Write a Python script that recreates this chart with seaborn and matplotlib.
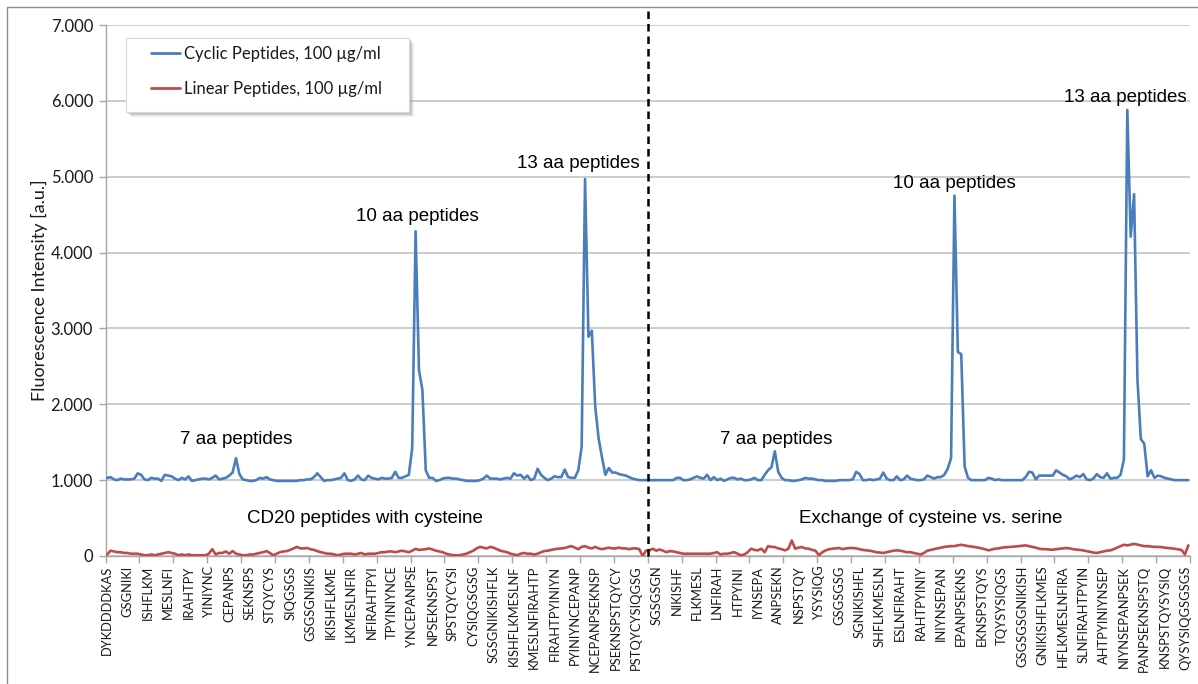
import numpy as np
import pandas as pd
import matplotlib
matplotlib.use("Agg")
import matplotlib.pyplot as plt
from matplotlib.ticker import FuncFormatter, FixedLocator
from matplotlib.lines import Line2D
from matplotlib.patches import Rectangle
import seaborn as sns

# ---------------- data (fluorescence in thousands of a.u.) ----------------
cyclic_cys = [
    1.03, 1.04, 1.01, 1.00, 1.02, 1.01, 1.01, 1.01, 1.02, 1.09,
    1.07, 1.01, 1.00, 1.03, 1.02, 1.02, 0.99, 1.07, 1.06, 1.05,
    1.02, 1.00, 1.03, 1.01, 1.05, 0.99, 1.00, 1.01, 1.02, 1.02,
    1.01, 1.03, 1.06, 1.01, 1.02, 1.03, 1.06, 1.10, 1.29, 1.08,
    1.01, 1.00, 0.99, 0.99, 1.00, 1.03, 1.02, 1.04, 1.01, 1.00,
    0.99, 0.99, 0.99, 0.99, 0.99, 0.99, 0.99, 1.00, 1.00, 1.01,
    1.01, 1.04, 1.09, 1.04, 0.99, 1.00, 1.00, 1.01, 1.02, 1.03,
    1.09, 1.00, 0.99, 1.01, 1.06, 1.01, 1.00, 1.06, 1.03, 1.02,
    1.01, 1.03, 1.02, 1.02, 1.03, 1.11, 1.03, 1.03, 1.05, 1.07,
    1.42, 4.28, 2.45, 2.19, 1.13, 1.03, 1.03, 0.99, 1.00, 1.02,
    1.03, 1.03, 1.02, 1.02, 1.01, 1.00, 0.99, 0.99, 0.99, 0.99,
    1.00, 1.02, 1.06, 1.02, 1.02, 1.02, 1.01, 1.02, 1.03, 1.02,
    1.09, 1.06, 1.07, 1.02, 1.06, 1.00, 1.02, 1.15, 1.07, 1.03,
    1.00, 1.02, 1.05, 1.04, 1.04, 1.14, 1.04, 1.03, 1.03, 1.13,
    1.44, 4.97, 2.89, 2.97, 1.97, 1.55, 1.30, 1.07, 1.16, 1.10,
    1.10, 1.08, 1.07, 1.06, 1.04, 1.02, 1.01, 1.00, 1.00, 1.00,
]
cyclic_ser = [
    1.00, 1.00, 1.00, 1.00, 1.00, 1.00, 1.00, 1.00, 1.03, 1.03,
    1.00, 1.00, 1.01, 1.03, 1.05, 1.03, 1.02, 1.07, 1.00, 1.04,
    1.00, 1.02, 0.99, 1.01, 1.03, 1.03, 1.01, 1.02, 1.00, 1.00,
    1.01, 1.03, 1.00, 1.00, 1.07, 1.13, 1.17, 1.38, 1.11, 1.03,
    1.00, 1.00, 0.99, 0.99, 1.00, 1.01, 1.03, 1.02, 1.02, 1.01,
    1.00, 1.00, 0.99, 0.99, 0.99, 0.99, 1.00, 1.00, 1.00, 1.00,
    1.01, 1.11, 1.08, 1.00, 1.00, 1.01, 1.00, 1.01, 1.02, 1.10,
    1.02, 1.00, 1.00, 1.05, 1.00, 1.01, 1.06, 1.02, 1.01, 1.00,
    1.00, 1.01, 1.06, 1.04, 1.02, 1.04, 1.04, 1.07, 1.15, 1.29,
    4.75, 2.69, 2.66, 1.18, 1.03, 1.00, 1.00, 1.00, 1.00, 1.00,
    1.03, 1.02, 1.00, 1.01, 1.00, 1.00, 1.00, 1.00, 1.00, 1.00,
    1.00, 1.04, 1.11, 1.10, 1.01, 1.06, 1.06, 1.06, 1.06, 1.06,
    1.13, 1.10, 1.07, 1.05, 1.01, 1.03, 1.06, 1.04, 1.08, 1.01,
    1.00, 1.02, 1.08, 1.04, 1.03, 1.09, 1.02, 1.03, 1.03, 1.07,
    1.27, 5.88, 4.21, 4.77, 2.32, 1.54, 1.48, 1.05, 1.13, 1.03,
    1.06, 1.05, 1.03, 1.02, 1.01, 1.00, 1.00, 1.00, 1.00, 1.00,
]
linear_cys = [
    0.02, 0.07, 0.06, 0.05, 0.05, 0.04, 0.04, 0.03, 0.03, 0.03,
    0.02, 0.01, 0.01, 0.02, 0.01, 0.02, 0.03, 0.04, 0.05, 0.04,
    0.03, 0.01, 0.02, 0.01, 0.02, 0.01, 0.01, 0.01, 0.01, 0.01,
    0.03, 0.09, 0.02, 0.04, 0.04, 0.06, 0.03, 0.065, 0.03, 0.02,
    0.01, 0.01, 0.02, 0.02, 0.03, 0.04, 0.05, 0.065, 0.04, 0.01,
    0.03, 0.05, 0.06, 0.065, 0.08, 0.10, 0.12, 0.10, 0.10, 0.105,
    0.09, 0.08, 0.065, 0.05, 0.04, 0.03, 0.03, 0.02, 0.01, 0.02,
    0.03, 0.03, 0.03, 0.02, 0.03, 0.04, 0.02, 0.03, 0.03, 0.03,
    0.04, 0.05, 0.05, 0.06, 0.06, 0.05, 0.06, 0.07, 0.06, 0.05,
    0.07, 0.095, 0.08, 0.085, 0.09, 0.10, 0.085, 0.07, 0.06, 0.05,
    0.03, 0.02, 0.01, 0.01, 0.01, 0.02, 0.03, 0.05, 0.07, 0.10,
    0.12, 0.11, 0.10, 0.12, 0.11, 0.09, 0.07, 0.06, 0.05, 0.03,
    0.02, 0.01, 0.03, 0.04, 0.03, 0.03, 0.02, 0.03, 0.05, 0.065,
    0.07, 0.08, 0.09, 0.095, 0.10, 0.105, 0.12, 0.13, 0.11, 0.09,
    0.12, 0.13, 0.11, 0.10, 0.12, 0.10, 0.09, 0.10, 0.11, 0.10,
    0.10, 0.11, 0.10, 0.10, 0.09, 0.10, 0.10, 0.09, 0.00, 0.07,
]
linear_ser = [
    0.074, 0.096, 0.07, 0.087, 0.07, 0.05, 0.065, 0.06, 0.05, 0.04,
    0.03, 0.03, 0.03, 0.03, 0.03, 0.03, 0.03, 0.03, 0.03, 0.04,
    0.05, 0.02, 0.03, 0.03, 0.04, 0.05, 0.03, 0.01, 0.02, 0.05,
    0.096, 0.08, 0.074, 0.096, 0.05, 0.13, 0.12, 0.118, 0.10, 0.09,
    0.074, 0.096, 0.205, 0.096, 0.11, 0.118, 0.10, 0.096, 0.08, 0.07,
    0.01, 0.05, 0.074, 0.09, 0.096, 0.10, 0.105, 0.09, 0.10, 0.105,
    0.105, 0.10, 0.09, 0.08, 0.074, 0.07, 0.06, 0.05, 0.045, 0.04,
    0.05, 0.06, 0.07, 0.074, 0.07, 0.06, 0.05, 0.05, 0.04, 0.03,
    0.02, 0.04, 0.07, 0.08, 0.09, 0.10, 0.11, 0.12, 0.125, 0.13,
    0.13, 0.14, 0.148, 0.14, 0.13, 0.125, 0.118, 0.11, 0.10, 0.09,
    0.074, 0.085, 0.096, 0.10, 0.11, 0.115, 0.118, 0.12, 0.125, 0.13,
    0.135, 0.14, 0.13, 0.12, 0.11, 0.096, 0.09, 0.09, 0.085, 0.083,
    0.09, 0.095, 0.10, 0.105, 0.10, 0.09, 0.085, 0.08, 0.074, 0.065,
    0.055, 0.045, 0.04, 0.05, 0.06, 0.07, 0.074, 0.09, 0.11, 0.13,
    0.148, 0.14, 0.15, 0.16, 0.15, 0.14, 0.13, 0.13, 0.125, 0.12,
    0.12, 0.118, 0.11, 0.105, 0.10, 0.096, 0.087, 0.08, 0.02, 0.14,
]

tick_labels = [
    "DYKDDDDKAS", "GSGNIKI", "ISHFLKM", "MESLNFI", "IRAHTPY", "YINIYNC",
    "CEPANPS", "SEKNSPS", "STQYCYS", "SIQGSGS", "GSGSGNIKIS", "IKISHFLKME",
    "LKMESLNFIR", "NFIRAHTPYI", "TPYINIYNCE", "YNCEPANPSE", "NPSEKNSPST",
    "SPSTQYCYSI", "CYSIQGSGSG", "SGSGNIKISHFLK", "KISHFLKMESLNF",
    "KMESLNFIRAHTP", "FIRAHTPYINIYN", "PYINIYNCEPANP", "NCEPANPSEKNSP",
    "PSEKNSPSTQYCY", "PSTQYCYSIQGSG",
    "SGSGSGN", "NIKISHF", "FLKMESL", "LNFIRAH", "HTPYINI", "IYNSEPA",
    "ANPSEKN", "NSPSTQY", "YSYSIQG", "GSGSGSG", "SGNIKISHFL", "SHFLKMESLN",
    "ESLNFIRAHT", "RAHTPYINIY", "INIYNSEPAN", "EPANPSEKNS", "EKNSPSTQYS",
    "TQYSYSIQGS", "GSGSGSGNIKISH", "GNIKISHFLKMES", "HFLKMESLNFIRA",
    "SLNFIRAHTPYIN", "AHTPYINIYNSEP", "NIYNSEPANPSEK", "PANPSEKNSPSTQ",
    "KNSPSTQYSYSIQ", "QYSYSIQGSGSGS",
]
series_names = ["Cyclic Peptides, 100 µg/ml", "Linear Peptides, 100 µg/ml"]
annotations = [
    ("7 aa peptides", 38, 1540), ("10 aa peptides", 91.5, 4480),
    ("13 aa peptides", 139, 5180), ("CD20 peptides with cysteine", 76, 500),
    ("7 aa peptides", 197.5, 1540), ("10 aa peptides", 250, 4915),
    ("13 aa peptides", 300.5, 6050), ("Exchange of cysteine vs. serine", 243, 500),
]

# ---------------- build frame ----------------
cyc = np.array(cyclic_cys + cyclic_ser) * 1000
lin = np.array(linear_cys + linear_ser) * 1000
n = len(cyc)
idx = np.arange(n)
df = pd.DataFrame({
    "idx": np.concatenate([idx, idx]),
    "value": np.concatenate([cyc, lin]),
    "series": [series_names[0]] * n + [series_names[1]] * n,
})

sns.set_theme(style="white")
plt.rcParams["font.family"] = ["Lato", "DejaVu Sans"]

W, H = 1198, 684
fig = plt.figure(figsize=(W / 100, H / 100), dpi=100)
ax = fig.add_axes([105.5 / W, 1 - 556 / H, (1190 - 105.5) / W, 531 / H])

palette = {series_names[0]: "#4a7ebb", series_names[1]: "#be4b48"}
sns.lineplot(data=df, x="idx", y="value", hue="series", palette=palette,
             linewidth=1.9, ax=ax, legend=False, zorder=3)

ax.set_xlim(-0.5, n - 0.5)
ax.set_ylim(0, 7000)
ax.yaxis.set_major_locator(FixedLocator(np.arange(0, 7001, 1000)))
ax.yaxis.set_major_formatter(FuncFormatter(lambda v, p: f"{int(v):,}".replace(",", ".")))
ax.grid(axis="y", color="#bfbfbf", linewidth=1.1, zorder=0)
ax.grid(axis="x", visible=False)

label_pos = np.arange(0, 6 * len(tick_labels), 6)
ax.set_xticks(label_pos)
ax.set_xticklabels(tick_labels, rotation=90, fontsize=9.3, color="#1a1a1a")
ax.set_xticks(np.arange(-0.5, n, 10), minor=True)
ax.tick_params(axis="x", which="major", length=0, pad=7)
ax.tick_params(axis="x", which="minor", length=5, width=1, color="#a6a6a6", direction="out", bottom=True)
ax.tick_params(axis="y", length=5, width=1, color="#a6a6a6", direction="out", left=True,
               labelsize=12, labelcolor="#1a1a1a", pad=4)

for s in ["top", "right"]:
    ax.spines[s].set_visible(False)
for s in ["left", "bottom"]:
    ax.spines[s].set_color("#a6a6a6")
    ax.spines[s].set_linewidth(1)

ax.set_xlabel("")
ax.set_ylabel("Fluorescence Intensity [a.u.]", fontsize=13, color="#1a1a1a", labelpad=2)

# divider
ax.axvline(n / 2 - 0.5, ymin=0, ymax=(556 - 8) / 531, clip_on=False, color="black",
           linestyle=(0, (3, 2)), linewidth=1.8, zorder=4)

for txt, x, y in annotations:
    ax.text(x, y, txt, ha="center", va="center", fontsize=13.5,
            family=["Liberation Sans", "DejaVu Sans"], color="black", zorder=5)

# legend box with soft shadow (pixel layout of the reference)
def fig_rect(x0, y0, x1, y1, **kw):
    return Rectangle((x0 / W, 1 - y1 / H), (x1 - x0) / W, (y1 - y0) / H,
                     transform=fig.transFigure, **kw)

for k, a in [(5, 0.10), (4, 0.14), (3, 0.18), (2, 0.22)]:
    fig.add_artist(fig_rect(126 + k, 38 + k, 409 + k, 112 + k, facecolor="#808080",
                            edgecolor="none", alpha=a, zorder=6))
fig.add_artist(fig_rect(126, 38, 409, 112, facecolor="white", edgecolor="#d9d9d9",
                        linewidth=0.8, zorder=7))

handles = [Line2D([0], [0], color=palette[s], lw=2.0) for s in series_names]
leg = fig.legend(handles, series_names, loc="upper left",
                 bbox_to_anchor=(151 / W, 1 - 46 / H), bbox_transform=fig.transFigure,
                 borderaxespad=0, borderpad=0, frameon=False,
                 fontsize=12, handlelength=1.75, handletextpad=0.22,
                 labelspacing=1.15)
leg.set_zorder(8)
for t in leg.get_texts():
    t.set_color("#1a1a1a")

# chart-area border
fig.add_artist(Line2D([7 / W, 7 / W, 1.0], [0.0, 1 - 7 / H, 1 - 7 / H],
                      transform=fig.transFigure, color="#8c8c8c", linewidth=1))

fig.savefig("out.png", dpi=100)
